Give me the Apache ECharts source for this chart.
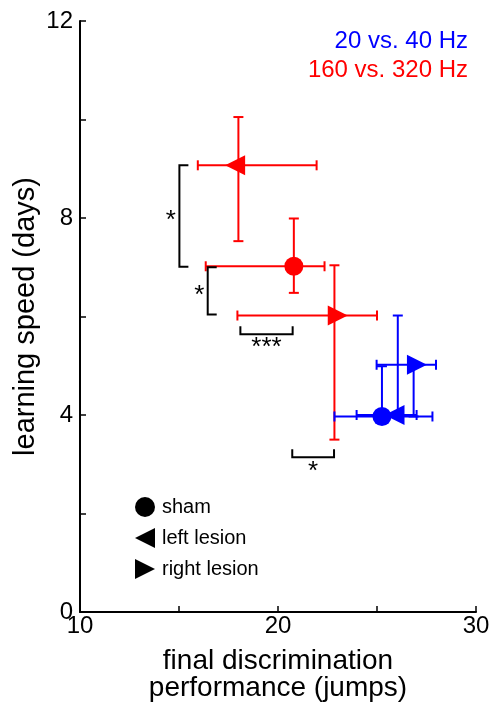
<!DOCTYPE html>
<html>
<head>
<meta charset="utf-8">
<script src="https://cdn.jsdelivr.net/npm/echarts@6/dist/echarts.min.js"></script>
<style>
  html, body { margin: 0; padding: 0; background: #fff; }
  #chart { width: 493px; height: 712px; }
</style>
</head>
<body>
<div id="chart"></div>
<script>
var FONT = '"Liberation Sans", Arial, sans-serif';
var red = '#ff0000';
var blue = '#0000ff';

// groups: sham, left lesion, right lesion
var groups = ['sham', 'left lesion', 'right lesion'];
var shapes = ['circle', 'path://M20,0L0,10L20,20Z', 'path://M0,0L20,10L0,20Z'];
var shapeOffset = [[0, 0], [-3.3, 0], [3.3, 0]];

// 160 vs. 320 Hz (red)
var redX = [20.8, 18.0, 22.85];
var redY = [7.02, 9.07, 6.02];
var redXLow = [16.35, 15.95, 17.95];
var redXHigh = [22.35, 21.95, 25.0];
var redYLow = [6.48, 7.53, 3.5];
var redYHigh = [7.99, 10.05, 7.04];

// 20 vs. 40 Hz (blue)
var blueX = [25.25, 26.05, 26.85];
var blueY = [3.97, 4.0, 5.02];
var blueXLow = [22.85, 23.97, 24.98];
var blueXHigh = [27.8, 27.0, 27.98];
var blueYLow = [3.97, 4.0, 3.97];
var blueYHigh = [4.99, 6.02, 5.02];

// significance brackets
var vBrackets = [[15.02, 7.01, 9.07], [16.45, 6.04, 7.0]];   // x, yLow, yHigh
var vStars = ['*', '*'];
var hBrackets = [[18.1, 20.74, 5.64], [20.72, 22.83, 3.14]]; // xLow, xHigh, y
var hStars = ['***', '*'];

var xTickLabels = [10, 20, 30];
var yTickLabels = [0, 4, 8, 12];

function errRows(x, y, xl, xh, yl, yh) {
  var rows = [];
  for (var i = 0; i < x.length; i++) {
    rows.push([x[i], y[i], xl[i], xh[i], yl[i], yh[i]]);
  }
  return rows;
}

function markerRows(x, y) {
  var rows = [];
  for (var i = 0; i < x.length; i++) {
    rows.push({
      value: [x[i], y[i]],
      symbol: shapes[i],
      symbolSize: i === 0 ? 19 : 20,
      symbolOffset: shapeOffset[i]
    });
  }
  return rows;
}

function errorBar(color) {
  return function (params, api) {
    var c = api.coord([api.value(0), api.value(1)]);
    var l = api.coord([api.value(2), api.value(1)]);
    var r = api.coord([api.value(3), api.value(1)]);
    var b = api.coord([api.value(0), api.value(4)]);
    var t = api.coord([api.value(0), api.value(5)]);
    var cap = 5;
    var st = { stroke: color, lineWidth: 2 };
    return {
      type: 'group',
      children: [
        { type: 'line', shape: { x1: l[0], y1: c[1], x2: r[0], y2: c[1] }, style: st },
        { type: 'line', shape: { x1: l[0], y1: c[1] - cap, x2: l[0], y2: c[1] + cap }, style: st },
        { type: 'line', shape: { x1: r[0], y1: c[1] - cap, x2: r[0], y2: c[1] + cap }, style: st },
        { type: 'line', shape: { x1: c[0], y1: b[1], x2: c[0], y2: t[1] }, style: st },
        { type: 'line', shape: { x1: c[0] - cap, y1: b[1], x2: c[0] + cap, y2: b[1] }, style: st },
        { type: 'line', shape: { x1: c[0] - cap, y1: t[1], x2: c[0] + cap, y2: t[1] }, style: st }
      ]
    };
  };
}

var st = { stroke: '#000', lineWidth: 2, fill: 'none' };

function vBracket(params, api) {
  var lo = api.coord([api.value(0), api.value(1)]);
  var hi = api.coord([api.value(0), api.value(2)]);
  var tick = 9;
  return {
    type: 'group',
    children: [
      { type: 'polyline', shape: { points: [[lo[0] + tick, lo[1]], [lo[0], lo[1]], [hi[0], hi[1]], [hi[0] + tick, hi[1]]] }, style: st },
      {
        type: 'text', x: lo[0] - 8.5, y: (lo[1] + hi[1]) / 2 + 5,
        style: { text: vStars[params.dataIndex], font: '26px ' + FONT, fill: '#000', align: 'center', verticalAlign: 'middle' }
      }
    ]
  };
}

function hBracket(params, api) {
  var a = api.coord([api.value(0), api.value(2)]);
  var b = api.coord([api.value(1), api.value(2)]);
  var tick = 8;
  return {
    type: 'group',
    children: [
      { type: 'polyline', shape: { points: [[a[0], a[1] - tick], [a[0], a[1]], [b[0], b[1]], [b[0], b[1] - tick]] }, style: st },
      {
        type: 'text', x: (a[0] + b[0]) / 2, y: a[1] + 14,
        style: { text: hStars[params.dataIndex], font: '26px ' + FONT, fill: '#000', align: 'center', verticalAlign: 'middle' }
      }
    ]
  };
}

var chart = echarts.init(document.getElementById('chart'), null, { renderer: 'canvas' });

var option = {
  animation: false,
  backgroundColor: '#fff',
  textStyle: { fontFamily: FONT },
  grid: { left: 80, right: 17, top: 21, bottom: 100, containLabel: false, outerBoundsMode: 'none' },
  legend: {
    orient: 'vertical',
    left: 130,
    top: 492,
    itemWidth: 20,
    itemHeight: 20,
    itemGap: 11,
    selectedMode: false,
    itemStyle: { color: '#000', opacity: 1 },
    textStyle: { fontSize: 20, color: '#000', fontFamily: FONT, padding: [0, 0, 0, 2] },
    data: [
      { name: groups[0], icon: shapes[0] },
      { name: groups[1], icon: shapes[1] },
      { name: groups[2], icon: shapes[2] }
    ]
  },
  graphic: [
    { type: 'text', right: 25, top: 29, style: { text: '20 vs. 40 Hz', font: '24px ' + FONT, fill: blue } },
    { type: 'text', right: 25, top: 58, style: { text: '160 vs. 320 Hz', font: '24px ' + FONT, fill: red } }
  ],
  xAxis: {
    type: 'value',
    min: 10,
    max: 30,
    interval: 5,
    name: 'final discrimination\nperformance (jumps)',
    nameLocation: 'middle',
    nameGap: 36,
    nameMoveOverlap: false,
    nameTextStyle: { fontSize: 28, color: '#000', lineHeight: 27, fontFamily: FONT },
    axisLine: { show: true, lineStyle: { color: '#000', width: 2 } },
    axisTick: { show: true, inside: true, length: 6, lineStyle: { color: '#000', width: 1.5 } },
    splitLine: { show: false },
    axisLabel: {
      color: '#000', fontSize: 24, margin: 2, fontFamily: FONT,
      formatter: function (v) { return xTickLabels.indexOf(v) >= 0 ? String(v) : ''; }
    }
  },
  yAxis: {
    type: 'value',
    min: 0,
    max: 12,
    interval: 2,
    name: 'learning speed (days)',
    nameLocation: 'middle',
    nameGap: 40,
    nameMoveOverlap: false,
    nameTextStyle: { fontSize: 29, color: '#000', fontFamily: FONT },
    axisLine: { show: true, lineStyle: { color: '#000', width: 2 } },
    axisTick: { show: true, inside: true, length: 6, lineStyle: { color: '#000', width: 1.5 } },
    splitLine: { show: false },
    axisLabel: {
      color: '#000', fontSize: 24, margin: 7, fontFamily: FONT,
      formatter: function (v) { return yTickLabels.indexOf(v) >= 0 ? String(v) : ''; }
    }
  },
  series: [
    // legend entries only
    { name: groups[0], type: 'scatter', data: [], itemStyle: { color: '#000', opacity: 1 } },
    { name: groups[1], type: 'scatter', data: [], itemStyle: { color: '#000', opacity: 1 } },
    { name: groups[2], type: 'scatter', data: [], itemStyle: { color: '#000', opacity: 1 } },
    {
      type: 'custom',
      renderItem: errorBar(red),
      data: errRows(redX, redY, redXLow, redXHigh, redYLow, redYHigh),
      z: 2, silent: true
    },
    {
      type: 'scatter',
      data: markerRows(redX, redY),
      itemStyle: { color: red, opacity: 1 },
      z: 3, silent: true
    },
    {
      type: 'custom',
      renderItem: errorBar(blue),
      data: errRows(blueX, blueY, blueXLow, blueXHigh, blueYLow, blueYHigh),
      z: 4, silent: true
    },
    {
      type: 'scatter',
      data: markerRows(blueX, blueY),
      itemStyle: { color: blue, opacity: 1 },
      z: 5, silent: true
    },
    { type: 'custom', renderItem: vBracket, data: vBrackets, z: 6, silent: true },
    { type: 'custom', renderItem: hBracket, data: hBrackets, z: 6, silent: true }
  ]
};

chart.setOption(option);
</script>
</body>
</html>
